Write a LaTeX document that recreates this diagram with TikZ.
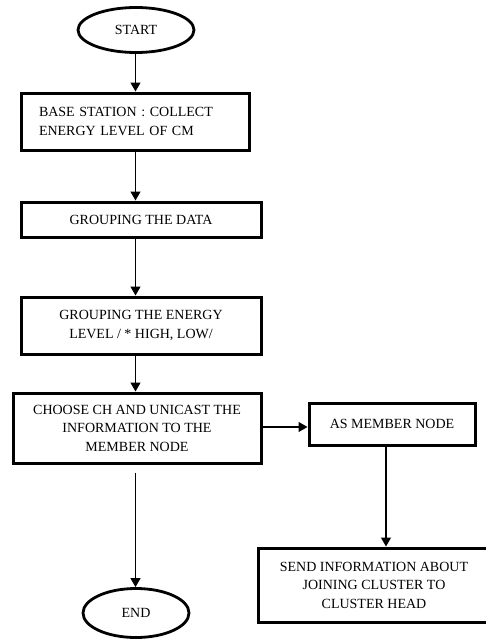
\documentclass[tikz,border=0pt]{standalone}
\usepackage{fontspec}
\setmainfont{Liberation Serif}
\usetikzlibrary{shapes.geometric,arrows.meta}
\begin{document}
\begin{tikzpicture}[x=1pt,y=-1pt,
  every node/.style={font=\fontsize{14}{18.5}\selectfont, inner sep=0pt},
  boxst/.style={draw, line width=3pt, rectangle, align=center},
  ovalst/.style={draw, line width=2.8pt, ellipse},
  arr/.style={line width=1.2pt, -{Triangle[length=9pt,width=10pt]}}]
\useasboundingbox[fill=white] (0,0) rectangle (486,640);
\node[ovalst, minimum width=116pt, minimum height=45pt] (start) at (136,30) {START};
\node[boxst, minimum width=228pt, minimum height=57pt, text width=192pt, align=left] (b1) at (135,121.5) {BASE STATION : COLLECT\\ENERGY LEVEL OF CM};
\node[boxst, minimum width=240pt, minimum height=35pt] (b2) at (141,219.5) {GROUPING THE DATA};
\node[boxst, minimum width=240pt, minimum height=57pt] (b3) at (141,325.5) {GROUPING THE ENERGY\\LEVEL / * HIGH, LOW/};
\node[boxst, minimum width=248pt, minimum height=70pt] (b4) at (137,428) {CHOOSE CH AND UNICAST THE\\INFORMATION TO THE\\MEMBER NODE};
\node[boxst, minimum width=166pt, minimum height=42pt] (m) at (392,424) {AS MEMBER NODE};
\node[boxst, minimum width=232pt, minimum height=74pt] (s) at (374,585) {SEND INFORMATION ABOUT\\JOINING CLUSTER TO\\CLUSTER HEAD};
\node[ovalst, minimum width=106pt, minimum height=49pt] (end) at (136,613) {END};
\draw[arr] (start.south -| 135.5,0) -- (b1.north -| 135.5,0);
\draw[arr] (b1.south -| 135.5,0) -- (b2.north -| 135.5,0);
\draw[arr] (b2.south -| 135.5,0) -- (b3.north -| 135.5,0);
\draw[arr] (b3.south -| 135.5,0) -- (b4.north -| 135.5,0);
\coordinate (e0) at ([yshift=-8pt]b4.south -| 135.5,0);
\draw[arr] (e0) -- (end.north -| 135.5,0);
\draw[arr] (b4.east |- 0,427) -- (m.west |- 0,427);
\draw[arr] ([xshift=-6pt]m.south) -- ([xshift=-6pt]m.south |- s.north);
\end{tikzpicture}
\end{document}
